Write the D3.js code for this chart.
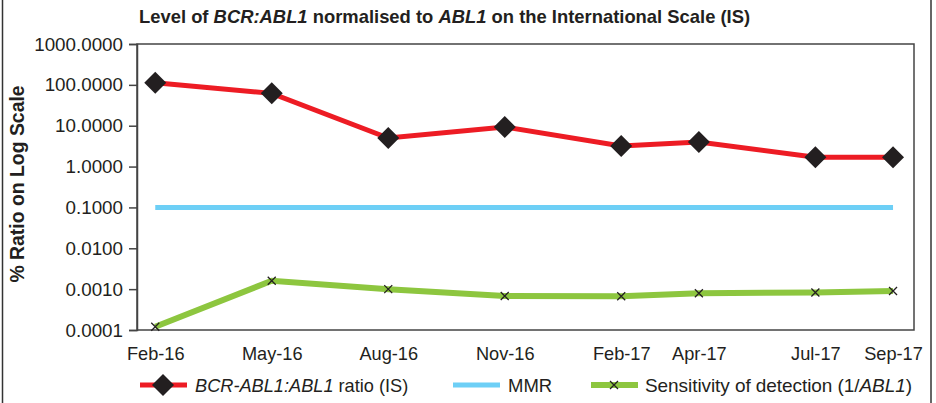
<!DOCTYPE html>
<html><head><meta charset="utf-8">
<script src="https://cdn.jsdelivr.net/npm/d3@7"></script>
<style>body{margin:0;background:#fff}svg{display:block}text{font-family:"Liberation Sans",Arial,sans-serif;fill:#231f20}</style>
</head><body><svg id="c" width="936" height="403"></svg>
<script>
// month index from Feb-2016
const dates = [0, 3, 6, 9, 12, 14, 17, 19];
const tickLabels = ["Feb-16","May-16","Aug-16","Nov-16","Feb-17","Apr-17","Jul-17","Sep-17"];
const bcrAbl = [113, 62, 5.0, 9.3, 3.2, 4.0, 1.7, 1.7];
const mmr = [0.1, 0.1, 0.1, 0.1, 0.1, 0.1, 0.1, 0.1];
const sensitivity = [0.00012, 0.0016, 0.001, 0.00068, 0.00067, 0.00079, 0.00083, 0.0009];
const yTicks = [1000, 100, 10, 1, 0.1, 0.01, 0.001, 0.0001];

const svg = d3.select("#c");
const L = 137, R = 914, T = 44, B = 330;
const x = d3.scaleLinear().domain([-0.47, 19.54]).range([L, R]);
const y = d3.scaleLog().domain([0.0001, 1000]).range([B, T]);

// outer frame sides
svg.append("line").attr("x1",2.5).attr("x2",2.5).attr("y1",0).attr("y2",403).attr("stroke","#333").attr("stroke-width",1.5);
svg.append("line").attr("x1",931).attr("x2",931).attr("y1",0).attr("y2",403).attr("stroke","#333").attr("stroke-width",1.5);

// plot border
svg.append("rect").attr("x",L).attr("y",T).attr("width",R-L).attr("height",B-T)
  .attr("fill","none").attr("stroke","#444").attr("stroke-width",1.5);

// y axis
const ya = svg.append("g").attr("transform",`translate(${L},0)`)
  .call(d3.axisLeft(y).tickValues(yTicks).tickFormat(d3.format(".4f")).tickSize(8).tickPadding(6));
ya.select(".domain").attr("stroke","#444").attr("stroke-width",1.5);
ya.selectAll(".tick line").attr("stroke","#444").attr("stroke-width",1.5);
ya.selectAll(".tick text").attr("font-size",18.8).attr("fill","#231f20").attr("font-family","Liberation Sans, Arial, sans-serif");

// x axis
const xa = svg.append("g").attr("transform",`translate(0,${B})`)
  .call(d3.axisBottom(x).tickValues(dates).tickFormat((d,i)=>tickLabels[i]).tickSize(0).tickPadding(17));
xa.select(".domain").remove();
xa.selectAll(".tick text").attr("font-size",18.2).attr("fill","#231f20").attr("font-family","Liberation Sans, Arial, sans-serif");

const line = d3.line().x((d,i)=>x(dates[i])).y(d=>y(d));

svg.append("path").datum(mmr).attr("d",line).attr("fill","none").attr("stroke","#6dcff6").attr("stroke-width",5);
svg.append("path").datum(sensitivity).attr("d",line).attr("fill","none").attr("stroke","#8dc63f").attr("stroke-width",6);
svg.append("path").datum(bcrAbl).attr("d",line).attr("fill","none").attr("stroke","#ed1c24").attr("stroke-width",5);

const diamond = s => `M0,${-s}L${s},0L0,${s}L${-s},0Z`;
const cross = s => `M${-s},${-s}L${s},${s}M${-s},${s}L${s},${-s}`;

svg.selectAll(".dm").data(bcrAbl).join("path").attr("class","dm")
  .attr("transform",(d,i)=>`translate(${x(dates[i])},${y(d)})`).attr("d",diamond(11)).attr("fill","#231f20");
svg.selectAll(".cx").data(sensitivity).join("path").attr("class","cx")
  .attr("transform",(d,i)=>`translate(${x(dates[i])},${y(d)})`).attr("d",cross(4)).attr("stroke","#231f20").attr("stroke-width",1.3).attr("fill","none");

// title
const t = svg.append("text").attr("x",139).attr("y",23).attr("font-size",18.4).attr("font-weight","bold");
t.append("tspan").text("Level of ");
t.append("tspan").attr("font-style","italic").text("BCR:ABL1");
t.append("tspan").text(" normalised to ");
t.append("tspan").attr("font-style","italic").text("ABL1");
t.append("tspan").text(" on the International Scale (IS)");

// y label
svg.append("text").attr("transform","translate(24,184) rotate(-90)").attr("text-anchor","middle")
  .attr("font-size",19.4).attr("font-weight","bold").text("% Ratio on Log Scale");

// legend
const ly = 385;
const lg = svg.append("g");
lg.append("line").attr("x1",140).attr("x2",187).attr("y1",ly).attr("y2",ly).attr("stroke","#ed1c24").attr("stroke-width",5);
lg.append("path").attr("transform",`translate(163,${ly})`).attr("d",diamond(11)).attr("fill","#231f20");
const t1 = lg.append("text").attr("x",195).attr("y",ly+6.5).attr("font-size",18.2);
t1.append("tspan").attr("font-style","italic").text("BCR-ABL1:ABL1");
t1.append("tspan").text(" ratio (IS)");
lg.append("line").attr("x1",453).attr("x2",500).attr("y1",ly).attr("y2",ly).attr("stroke","#6dcff6").attr("stroke-width",5);
lg.append("text").attr("x",508).attr("y",ly+6.5).attr("font-size",18.5).text("MMR");
lg.append("line").attr("x1",591).attr("x2",638).attr("y1",ly).attr("y2",ly).attr("stroke","#8dc63f").attr("stroke-width",6);
lg.append("path").attr("transform",`translate(614,${ly})`).attr("d",cross(4)).attr("stroke","#231f20").attr("stroke-width",1.3);
const t3 = lg.append("text").attr("x",645).attr("y",ly+6.5).attr("font-size",19).attr("textLength",267);
t3.append("tspan").text("Sensitivity of detection (1/");
t3.append("tspan").attr("font-style","italic").text("ABL1");
t3.append("tspan").text(")");
</script></body></html>
